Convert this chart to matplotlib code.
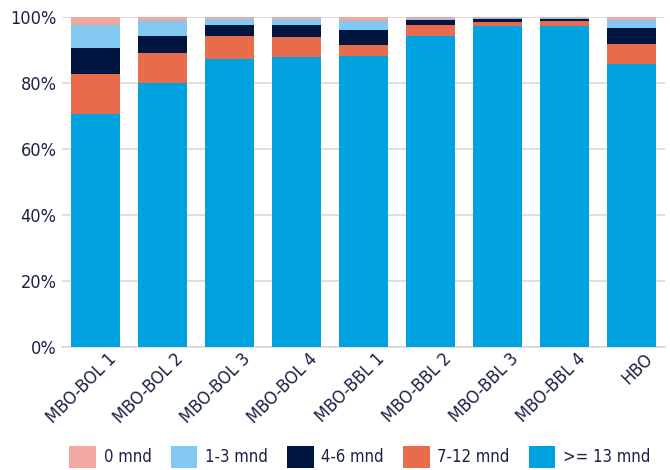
import matplotlib.pyplot as plt
import numpy as np
from matplotlib.ticker import PercentFormatter
from matplotlib.transforms import ScaledTranslation

plt.rcParams['font.family'] = ['DejaVu Sans']
plt.rcParams['font.stretch'] = 'condensed'

groups = ['MBO-BOL 1', 'MBO-BOL 2', 'MBO-BOL 3', 'MBO-BOL 4', 'MBO-BBL 1',
          'MBO-BBL 2', 'MBO-BBL 3', 'MBO-BBL 4', 'HBO']
m13 = [70.6, 80.0, 87.3, 87.9, 88.2, 94.2, 97.4, 97.4, 85.7]
m7_12 = [12.1, 9.0, 6.9, 6.0, 3.3, 3.3, 1.2, 1.5, 6.1]
m4_6 = [7.9, 5.2, 3.3, 3.6, 4.5, 1.5, 0.9, 0.6, 4.8]
m1_3 = [7.0, 4.6, 1.9, 1.9, 2.8, 0.5, 0.3, 0.3, 2.4]
m0 = [2.4, 1.2, 0.6, 0.6, 1.2, 0.5, 0.2, 0.2, 1.0]

series = [('>= 13 mnd', m13, '#00A3E0'),
          ('7-12 mnd', m7_12, '#E86B4B'),
          ('4-6 mnd', m4_6, '#001641'),
          ('1-3 mnd', m1_3, '#82C8F0'),
          ('0 mnd', m0, '#F0A8A0')]

txt = '#1a2344'
fig = plt.figure(figsize=(6.7, 4.7), dpi=100)
ax = fig.add_axes([0.0925, 0.2617, 0.9, 0.702])

x = np.arange(len(groups))
bottom = np.zeros(len(groups))
handles = {}
for name, vals, col in series:
    b = ax.bar(x, vals, 0.73, bottom=bottom, color=col, label=name, zorder=3)
    handles[name] = b
    bottom += np.array(vals)

ax.set_xlim(-0.5, len(groups) - 0.5)
ax.set_ylim(0, 100)
ax.set_yticks(np.arange(0, 101, 20))
ax.yaxis.set_major_formatter(PercentFormatter(decimals=0))
ax.grid(axis='y', color='#d9d9d9', linewidth=1.2, zorder=0)
for s in ['top', 'right', 'left']:
    ax.spines[s].set_visible(False)
ax.spines['bottom'].set_color('#d9d9d9')
ax.spines['bottom'].set_linewidth(1.2)
ax.tick_params(axis='both', length=0, labelsize=13, colors=txt, pad=4)
ax.tick_params(axis='x', pad=2)
ax.set_xticks(x)
ax.set_xticklabels(groups, rotation=45, ha='right', rotation_mode='anchor')
shift = ScaledTranslation(12 / 100, 0, fig.dpi_scale_trans)
for lab in ax.get_xticklabels():
    lab.set_transform(lab.get_transform() + shift)

order = ['0 mnd', '1-3 mnd', '4-6 mnd', '7-12 mnd', '>= 13 mnd']
leg = fig.legend([handles[n] for n in order], order, loc='center',
                 bbox_to_anchor=(0.537, 0.028), ncol=5, frameon=False,
                 fontsize=12, handlelength=1.6, handleheight=1.6,
                 columnspacing=1.15, handletextpad=0.45)
for t in leg.get_texts():
    t.set_color(txt)

fig.savefig('out.png', dpi=100)
